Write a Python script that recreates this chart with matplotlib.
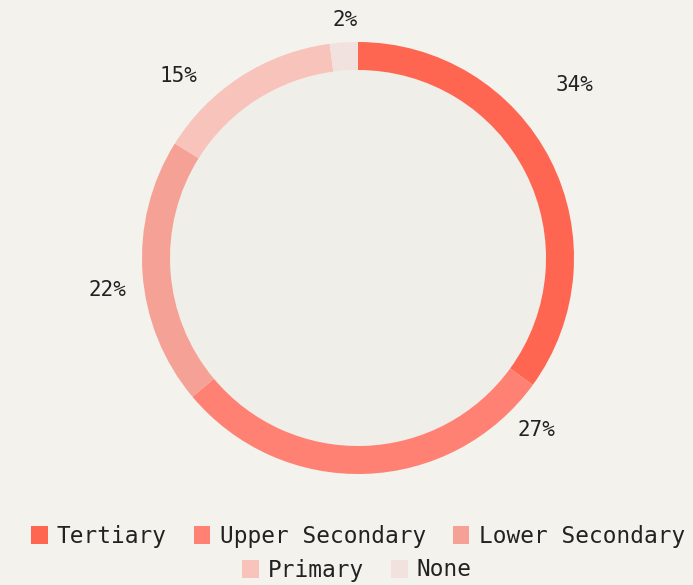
import numpy as np
import matplotlib
matplotlib.use('Agg')
import matplotlib.pyplot as plt
from matplotlib.patches import Patch, Circle

# Datos (proporción de los arcos tal como se dibujan y texto de las etiquetas)
categorias = ['Tertiary', 'Upper Secondary', 'Lower Secondary', 'Primary', 'None']
valores = [35.0, 28.9, 20.0, 14.0, 2.1]
etiquetas = ['34%', '27%', '22%', '15%', '2%']
colores = ['#ff6651', '#ff8173', '#f6a196', '#f7c3bb', '#f2e2df']

# posición de las etiquetas (ángulo en grados, radio relativo)
ang_et = [38.6, -43.9, 187.3, 134.7, 93.1]
radio_et = [1.285, 1.149, 1.171, 1.185, 1.104]

fondo = '#f3f2ec'
plt.rcParams['font.family'] = ['DejaVu Sans Mono']

W, H = 693, 585
fig = plt.figure(figsize=(W / 100, H / 100), dpi=100, facecolor=fondo)
cx, cy, R = 358, 258, 216
ax = fig.add_axes([(cx - R) / W, (H - cy - R) / H, 2 * R / W, 2 * R / H])
ax.set_facecolor(fondo)

ancho = 28 / R
ax.pie(valores, colors=colores, startangle=90, counterclock=False, normalize=True,
       radius=1, wedgeprops=dict(width=ancho, linewidth=0))
ax.add_patch(Circle((0, 0), 1 - ancho, facecolor='#f0eee8', edgecolor='none', zorder=0))
ax.set_xlim(-1, 1)
ax.set_ylim(-1, 1)
ax.set_aspect('equal')
ax.axis('off')

# Etiquetas de porcentaje
for t, g, r in zip(etiquetas, ang_et, radio_et):
    a = np.deg2rad(g)
    ax.text(r * np.cos(a), r * np.sin(a), t, ha='center', va='center',
            fontsize=15, color='#222222', clip_on=False)

# Leyenda en dos filas centradas
handles = [Patch(facecolor=c, edgecolor='none') for c in colores]
kw = dict(frameon=False, fontsize=16.4, handlelength=0.72, handleheight=0.85,
          handletextpad=0.4, columnspacing=1.2, labelcolor='#222222', loc='center')
fig.legend(handles[:3], categorias[:3], ncol=3, bbox_to_anchor=(358 / W, 1 - 536 / H), **kw)
fig.legend(handles[3:], categorias[3:], ncol=2, bbox_to_anchor=(357 / W, 1 - 570 / H), **kw)

fig.savefig('out.png', dpi=100, facecolor=fondo)
